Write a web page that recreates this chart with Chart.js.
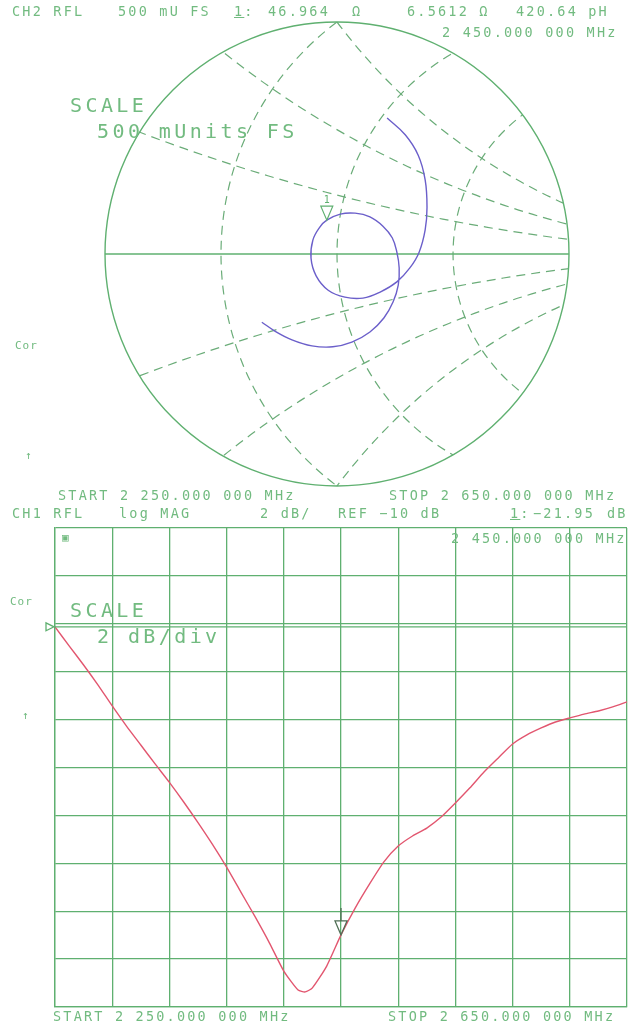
<!DOCTYPE html>
<html>
<head>
<meta charset="utf-8">
<script src="https://cdn.jsdelivr.net/npm/chart.js@4.4.1/dist/chart.umd.min.js"></script>
<style>
  body { margin: 0; background: #fff; width: 629px; height: 1028px; position: relative; overflow: hidden; }
  canvas { position: absolute; left: 0; }
  .t { position: absolute; font-family: "DejaVu Sans Mono", monospace; color: #72bb80; font-size: 13.5px; letter-spacing: 2.2px; white-space: pre; line-height: 1; }
  .big { font-size: 20px; letter-spacing: 3.4px; }
  .sm { font-size: 11px; letter-spacing: 1px; }
</style>
</head>
<body>
<canvas id="smith" width="629" height="500" style="top:0"></canvas>
<canvas id="logmag" width="629" height="510" style="top:515px"></canvas>

<div class="t" style="left:12px;top:5px">CH2 RFL</div>
<div class="t" style="left:118px;top:5px">500 mU FS</div>
<div class="t" style="left:234px;top:5px"><u>1</u>:</div>
<div class="t" style="left:268px;top:5px">46.964</div>
<div class="t" style="left:352px;top:5px">Ω</div>
<div class="t" style="left:407px;top:5px">6.5612 Ω</div>
<div class="t" style="left:516px;top:5px">420.64 pH</div>
<div class="t" style="left:442px;top:26px">2 450.000 000 MHz</div>
<div class="t big" style="left:70px;top:95px">SCALE</div>
<div class="t big" style="left:97px;top:121px">500 mUnits FS</div>
<div class="t sm" style="left:15px;top:340px">Cor</div>
<div class="t sm" style="left:25px;top:450px">↑</div>
<div class="t" style="left:58px;top:489px">START 2 250.000 000 MHz</div>
<div class="t" style="left:389px;top:489px">STOP 2 650.000 000 MHz</div>
<div class="t" style="left:12px;top:507px">CH1 RFL</div>
<div class="t" style="left:119px;top:507px">log MAG</div>
<div class="t" style="left:260px;top:507px">2 dB/</div>
<div class="t" style="left:338px;top:507px">REF −10 dB</div>
<div class="t" style="left:510px;top:507px"><u>1</u>:</div>
<div class="t" style="left:533px;top:507px">−21.95</div>
<div class="t" style="left:607px;top:507px">dB</div>
<div class="t" style="left:451px;top:532px">2 450.000 000 MHz</div>
<div class="t sm" style="left:62px;top:532px">▣</div>
<div class="t sm" style="left:10px;top:596px">Cor</div>
<div class="t big" style="left:70px;top:600px">SCALE</div>
<div class="t big" style="left:97px;top:626px">2 dB/div</div>
<div class="t sm" style="left:22px;top:710px">↑</div>
<div class="t" style="left:53px;top:1010px">START 2 250.000 000 MHz</div>
<div class="t" style="left:388px;top:1010px">STOP 2 650.000 000 MHz</div>

<script>
const gridGreen = "#5fb070";
const dashGreen = "#6aac78";

// CH2 reflection coefficient, real / imaginary part (2250 -> 2650 MHz)
const gammaRe = [0.108, 0.147, 0.175, 0.190, 0.194, 0.190, 0.177, 0.157, 0.129, 0.093,
    0.056, 0.017, -0.019, -0.045, -0.056, -0.052, -0.037, -0.022, 0.007, 0.039,
    0.071, 0.099, 0.119, 0.129, 0.134, 0.132, 0.121, 0.101, 0.071, 0.032,
    -0.009, -0.054, -0.097, -0.134, -0.162];
const gammaIm = [0.293, 0.257, 0.213, 0.160, 0.101, 0.052, 0.004, -0.030, -0.060, -0.082,
    -0.095, -0.093, -0.078, -0.047, -0.009, 0.030, 0.058, 0.073, 0.086, 0.088,
    0.080, 0.060, 0.035, 0.004, -0.030, -0.067, -0.103, -0.138, -0.168, -0.190,
    -0.200, -0.198, -0.185, -0.166, -0.147];
const smithMarkerIndex = 17;

const fullScale = 0.5;
const resistanceValues = [0.6, 1, 1.667];
const reactanceValues = [0.25, 0.5, 0.8, -0.25, -0.5, -0.8];

// CH1 log MAG
const freqMHz = [2250, 2260, 2270, 2280, 2290, 2300, 2310, 2320, 2330, 2340,
    2350, 2360, 2370, 2380, 2390, 2400, 2410, 2420, 2425, 2430,
    2440, 2450, 2460, 2470, 2480, 2490, 2500, 2510, 2520, 2530,
    2540, 2550, 2560, 2570, 2580, 2590, 2600, 2610, 2620, 2630,
    2640, 2650];
const returnLossDb = [-10.13, -10.93, -11.72, -12.55, -13.43, -14.27, -15.06, -15.85, -16.62, -17.44,
    -18.3, -19.2, -20.16, -21.2, -22.24, -23.33, -24.5, -25.29, -25.37, -25.2,
    -24.29, -22.99, -21.86, -20.86, -19.94, -19.28, -18.86, -18.53, -18.07, -17.48,
    -16.86, -16.19, -15.6, -15.02, -14.64, -14.35, -14.1, -13.93, -13.77, -13.64,
    -13.47, -13.26];
const markerFreq = 2450;
const refLevel = -10;

const smithGrid = {
    id: "smithGrid",
    beforeDatasetsDraw(chart) {
        const { ctx, scales: { x, y } } = chart;
        const cx = x.getPixelForValue(0);
        const cy = y.getPixelForValue(0);
        const unit = x.getPixelForValue(1) - cx;
        const radius = x.getPixelForValue(fullScale) - cx;

        ctx.save();
        ctx.beginPath();
        ctx.arc(cx, cy, radius, 0, Math.PI * 2);
        ctx.clip();
        ctx.strokeStyle = dashGreen;
        ctx.lineWidth = 1.2;
        ctx.setLineDash([9, 6]);
        resistanceValues.forEach((r) => {
            ctx.beginPath();
            ctx.arc(x.getPixelForValue(r / (1 + r)), cy, unit / (1 + r), 0, Math.PI * 2);
            ctx.stroke();
        });
        reactanceValues.forEach((xv) => {
            ctx.beginPath();
            ctx.arc(x.getPixelForValue(1), y.getPixelForValue(1 / xv), unit / Math.abs(xv), 0, Math.PI * 2);
            ctx.stroke();
        });
        ctx.restore();

        ctx.save();
        ctx.strokeStyle = gridGreen;
        ctx.lineWidth = 1.4;
        ctx.beginPath();
        ctx.arc(cx, cy, radius, 0, Math.PI * 2);
        ctx.stroke();
        ctx.beginPath();
        ctx.moveTo(cx - radius, cy);
        ctx.lineTo(cx + radius, cy);
        ctx.stroke();
        ctx.restore();
    },
    afterDatasetsDraw(chart) {
        const { ctx } = chart;
        const pt = chart.getDatasetMeta(0).data[smithMarkerIndex];
        ctx.save();
        ctx.strokeStyle = gridGreen;
        ctx.fillStyle = gridGreen;
        ctx.lineWidth = 1.2;
        ctx.beginPath();
        ctx.moveTo(pt.x, pt.y);
        ctx.lineTo(pt.x - 6, pt.y - 14);
        ctx.lineTo(pt.x + 6, pt.y - 14);
        ctx.closePath();
        ctx.stroke();
        ctx.font = "10px 'DejaVu Sans Mono'";
        ctx.textAlign = "center";
        ctx.fillText("1", pt.x, pt.y - 17);
        ctx.restore();
    },
};

new Chart(document.getElementById("smith").getContext("2d"), {
    type: "scatter",
    data: {
        datasets: [
            {
                data: gammaRe.map((re, i) => ({ x: re, y: gammaIm[i] })),
                showLine: true,
                borderColor: "#6b5fca",
                borderWidth: 1.4,
                pointRadius: 0,
                tension: 0.4,
            },
        ],
    },
    options: {
        responsive: false,
        animation: false,
        layout: { padding: { left: 105, right: 60, top: 22, bottom: 14 } },
        plugins: { legend: { display: false }, tooltip: { enabled: false } },
        scales: {
            x: { type: "linear", min: -fullScale, max: fullScale, display: false },
            y: { type: "linear", min: -fullScale, max: fullScale, display: false },
        },
    },
    plugins: [smithGrid],
});

const logMarkers = {
    id: "logMarkers",
    afterDatasetsDraw(chart) {
        const { ctx, scales: { x, y }, chartArea } = chart;
        const refY = y.getPixelForValue(refLevel) + 3;
        ctx.save();
        ctx.strokeStyle = gridGreen;
        ctx.lineWidth = 1.3;
        ctx.beginPath();
        ctx.moveTo(chartArea.left, refY);
        ctx.lineTo(chartArea.right, refY);
        ctx.stroke();
        ctx.beginPath();
        ctx.moveTo(chartArea.left - 9, refY - 4);
        ctx.lineTo(chartArea.left - 1, refY);
        ctx.lineTo(chartArea.left - 9, refY + 4);
        ctx.closePath();
        ctx.stroke();

        const idx = freqMHz.indexOf(markerFreq);
        const mx = x.getPixelForValue(markerFreq);
        const my = y.getPixelForValue(returnLossDb[idx]);
        ctx.strokeStyle = "#4f6e55";
        ctx.beginPath();
        ctx.moveTo(mx, my - 27);
        ctx.lineTo(mx, my - 14);
        ctx.moveTo(mx, my);
        ctx.lineTo(mx - 6, my - 14);
        ctx.lineTo(mx + 6, my - 14);
        ctx.closePath();
        ctx.stroke();
        ctx.restore();
    },
};

new Chart(document.getElementById("logmag").getContext("2d"), {
    type: "line",
    data: {
        datasets: [
            {
                data: freqMHz.map((f, i) => ({ x: f, y: returnLossDb[i] })),
                borderColor: "#e2566f",
                borderWidth: 1.4,
                pointRadius: 0,
                tension: 0.2,
            },
        ],
    },
    options: {
        responsive: false,
        animation: false,
        layout: { padding: { left: 55, right: 2, top: 13, bottom: 18 } },
        plugins: { legend: { display: false }, tooltip: { enabled: false } },
        scales: {
            x: {
                type: "linear",
                min: 2250,
                max: 2650,
                ticks: { display: false, stepSize: 40 },
                grid: { color: gridGreen, lineWidth: 1.3, drawTicks: false },
                border: { color: gridGreen, width: 1.3 },
            },
            y: {
                type: "linear",
                min: -26,
                max: -6,
                ticks: { display: false, stepSize: 2 },
                grid: { color: gridGreen, lineWidth: 1.3, drawTicks: false },
                border: { color: gridGreen, width: 1.3 },
            },
        },
    },
    plugins: [logMarkers],
});
</script>
</body>
</html>
